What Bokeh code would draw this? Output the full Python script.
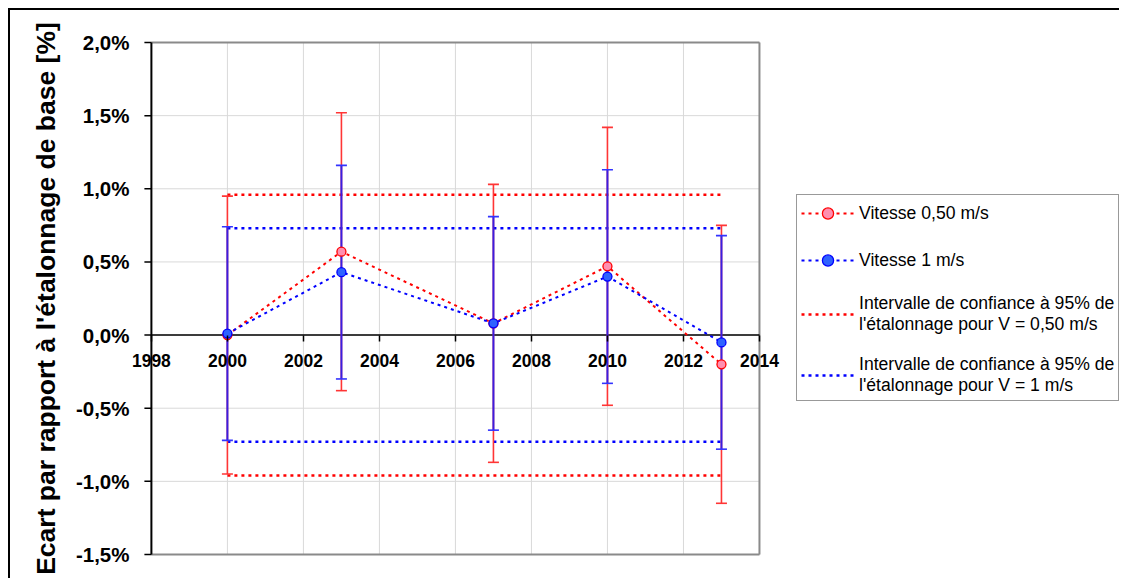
from bokeh.plotting import figure
from bokeh.models import Range1d, FixedTicker, CustomJSTickFormatter, Legend, LegendItem, ColumnDataSource
from bokeh.embed import file_html
from bokeh.resources import INLINE

# ---- data ----
years = [2000, 2003, 2007, 2010, 2013]
v050 = [0.00, 0.57, 0.08, 0.47, -0.20]
v1 = [0.01, 0.43, 0.08, 0.40, -0.05]
err050 = [0.95, 0.95, 0.95, 0.95, 0.95]
err1 = [0.73, 0.73, 0.73, 0.73, 0.73]
ci050 = 0.96
ci1 = 0.73
x_ticks = [1998, 2000, 2002, 2004, 2006, 2008, 2010, 2012, 2014]
y_ticks = [-1.5, -1.0, -0.5, 0.0, 0.5, 1.0, 1.5, 2.0]

labels = ["Vitesse 0,50 m/s", "Vitesse 1 m/s",
          "Intervalle de confiance à 95% de\nl'étalonnage pour V = 0,50 m/s",
          "Intervalle de confiance à 95% de\nl'étalonnage pour V = 1 m/s"]

RED = "#ff0000"
BLUE = "#0000ff"
RED_ERR = "#ff3535"
BLUE_ERR = "#3a1ee0"
FONT = "Liberation Sans"

XMIN, XMAX = x_ticks[0], x_ticks[-1]
YMIN, YMAX = y_ticks[0], y_ticks[-1]
PX_PER_YEAR = 38.0
xpad_left = 0.55
# frame extends to the right edge of the canvas so the legend is not clipped
xpad_right = 362.0 / PX_PER_YEAR
ypad = 0.0137

p = figure(width=1111, height=570,
           x_range=Range1d(XMIN - xpad_left, XMAX + xpad_right),
           y_range=Range1d(YMIN - ypad, YMAX + ypad),
           output_backend="svg", toolbar_location=None,
           min_border_left=120, min_border_right=0, min_border_top=30, min_border_bottom=24)
p.styles = {"border-left": "2px solid black", "border-top": "2px solid black",
            "margin-left": "8px", "margin-top": "8px"}

p.outline_line_color = None
p.xgrid.visible = False
p.ygrid.visible = False

# manual grid, limited to the plot area 1998-2014 / -1.5..2.0
p.segment(x0=x_ticks, x1=x_ticks, y0=[YMIN] * len(x_ticks), y1=[YMAX] * len(x_ticks),
          line_color="#d9d9d9", line_width=1)
p.segment(x0=[XMIN] * len(y_ticks), x1=[XMAX] * len(y_ticks), y0=y_ticks, y1=y_ticks,
          line_color="#d9d9d9", line_width=1)
# plot-area border (gray) top/right/bottom
p.segment(x0=[XMIN, XMAX, XMIN], x1=[XMAX, XMAX, XMAX], y0=[YMAX, YMIN, YMIN], y1=[YMAX, YMAX, YMIN],
          line_color="#8a8a8a", line_width=2)
# y axis line + ticks
p.segment(x0=[XMIN], x1=[XMIN], y0=[YMIN], y1=[YMAX], line_color="black", line_width=2)
tick_len = 7 / PX_PER_YEAR
p.segment(x0=[XMIN - tick_len] * len(y_ticks), x1=[XMIN] * len(y_ticks), y0=y_ticks, y1=y_ticks,
          line_color="black", line_width=1.5)
# x axis line at y = 0
p.segment(x0=[XMIN], x1=[XMAX], y0=[0], y1=[0], line_color="black", line_width=1.5)

# x axis ticks/labels at y = 0
xa = p.xaxis[0]
xa.fixed_location = 0
xa.ticker = FixedTicker(ticks=x_ticks)
xa.formatter = CustomJSTickFormatter(code="return tick.toFixed(0);")
xa.axis_line_color = None
xa.major_tick_out = 6
xa.major_tick_in = 0
xa.minor_tick_line_color = None
xa.major_tick_line_color = "black"
xa.major_tick_line_width = 1.5
xa.major_label_standoff = 13
xa.major_label_text_font = FONT
xa.major_label_text_font_style = "bold"
xa.major_label_text_font_size = "17.5px"
xa.major_label_text_color = "black"

ya = p.yaxis[0]
ya.ticker = FixedTicker(ticks=y_ticks)
ya.formatter = CustomJSTickFormatter(code="return tick.toFixed(1).replace('.', ',') + '%';")
ya.axis_line_color = None
ya.major_tick_line_color = None
ya.major_tick_out = 0
ya.major_tick_in = 0
ya.minor_tick_line_color = None
ya.major_label_standoff = 1
ya.major_label_text_font = FONT
ya.major_label_text_font_style = "bold"
ya.major_label_text_font_size = "20.5px"
ya.major_label_text_color = "black"
ya.axis_label = "Ecart par rapport à l'étalonnage de base [%]"
ya.axis_label_text_font = FONT
ya.axis_label_text_font_style = "bold"
ya.axis_label_text_font_size = "26.5px"
ya.axis_label_text_color = "black"
ya.axis_label_standoff = 12

# confidence interval lines
ci_r = p.segment(x0=[years[0], years[0]], x1=[years[-1], years[-1]], y0=[ci050, -ci050], y1=[ci050, -ci050],
                 line_color=RED, line_width=2.5, line_dash="3 4")
ci_b = p.segment(x0=[years[0], years[0]], x1=[years[-1], years[-1]], y0=[ci1, -ci1], y1=[ci1, -ci1],
                 line_color=BLUE, line_width=2.5, line_dash="3 4")

# series lines
l_r = p.line(years, v050, line_color=RED, line_width=2, line_dash="3 4")
l_b = p.line(years, v1, line_color=BLUE, line_width=2, line_dash="3 4")

# error bars
src_r = ColumnDataSource(dict(x=years, y=v050,
                              lo=[v - e for v, e in zip(v050, err050)],
                              hi=[v + e for v, e in zip(v050, err050)]))
src_b = ColumnDataSource(dict(x=years, y=v1,
                              lo=[v - e for v, e in zip(v1, err1)],
                              hi=[v + e for v, e in zip(v1, err1)]))
p.segment(x0="x", x1="x", y0="lo", y1="hi", source=src_r, line_color=RED_ERR, line_width=1.6)
p.scatter(x="x", y="lo", source=src_r, marker="dash", size=11, line_color=RED_ERR, line_width=1.6)
p.scatter(x="x", y="hi", source=src_r, marker="dash", size=11, line_color=RED_ERR, line_width=1.6)
p.segment(x0="x", x1="x", y0="lo", y1="hi", source=src_b, line_color=BLUE_ERR, line_width=2)
p.scatter(x="x", y="lo", source=src_b, marker="dash", size=11, line_color="#3333ff", line_width=1.6)
p.scatter(x="x", y="hi", source=src_b, marker="dash", size=11, line_color="#3333ff", line_width=1.6)

# markers
m_r = p.scatter(x="x", y="y", source=src_r, marker="circle", size=9, fill_color="#ff8fb0", line_color=RED, line_width=1.3)
m_b = p.scatter(x="x", y="y", source=src_b, marker="circle", size=9, fill_color="#2f62ff", line_color=BLUE, line_width=1.3)

legend = Legend(items=[
    LegendItem(label=labels[0], renderers=[l_r, m_r]),
    LegendItem(label=labels[1], renderers=[l_b, m_b]),
    LegendItem(label=labels[2], renderers=[ci_r]),
    LegendItem(label=labels[3], renderers=[ci_b]),
], location=(666, 155))
legend.label_text_font = FONT
legend.label_text_font_size = "17.6px"
legend.label_text_line_height = 1.1
legend.label_text_color = "black"
legend.glyph_width = 53
legend.glyph_height = 28
legend.label_height = 28
legend.label_standoff = 5
legend.spacing = 19
legend.padding = 4
legend.margin = 0
legend.border_line_color = "#333333"
legend.border_line_width = 1.5
legend.background_fill_color = "white"
legend.background_fill_alpha = 1
p.add_layout(legend, "center")

open("out.html", "w").write(file_html(p, INLINE))
